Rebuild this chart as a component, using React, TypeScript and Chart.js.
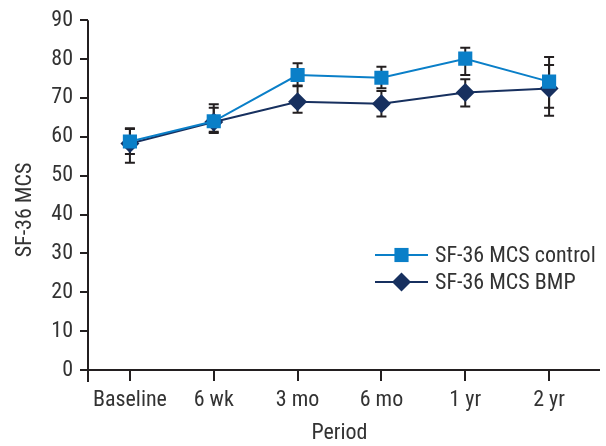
import React, { useEffect, useRef } from "react";
import { Chart, registerables } from "chart.js";

Chart.register(...registerables);

const periods = ["Baseline", "6 wk", "3 mo", "6 mo", "1 yr", "2 yr"];
const controlMean = [58.8, 64.0, 75.9, 75.2, 80.1, 74.2];
const controlUpper = [62.2, 67.5, 78.9, 78.0, 82.9, 78.5];
const controlLower = [55.6, 61.3, 73.2, 72.5, 75.9, 67.5];
const bmpMean = [58.3, 63.8, 69.0, 68.5, 71.4, 72.4];
const bmpUpper = [62.0, 68.4, 73.0, 71.8, 74.8, 80.5];
const bmpLower = [53.3, 61.0, 66.2, 65.2, 67.8, 65.4];
const yTicks = [0, 10, 20, 30, 40, 50, 60, 70, 80, 90];

const FONT = "'Liberation Sans Narrow', 'Roboto Condensed', 'DejaVu Sans Condensed', sans-serif";
const TEXT = "#333333";
const AXIS = "#231f20";
const CONTROL = "#0a7fc8";
const BMP = "#17305f";

const errorBars = {
  id: "errorBars",
  beforeDatasetsDraw(chart: any) {
    const ctx = chart.ctx;
    const xs = chart.scales.x;
    const ys = chart.scales.y;
    const sets = [
      [controlUpper, controlLower],
      [bmpUpper, bmpLower],
    ];
    ctx.save();
    ctx.strokeStyle = AXIS;
    ctx.lineWidth = 2;
    sets.forEach(([up, lo]) => {
      up.forEach((u: number, j: number) => {
        const x = xs.getPixelForValue(j);
        const yt = ys.getPixelForValue(u);
        const yb = ys.getPixelForValue(lo[j]);
        ctx.beginPath();
        ctx.moveTo(x, yt);
        ctx.lineTo(x, yb);
        ctx.moveTo(x - 5, yt);
        ctx.lineTo(x + 5, yt);
        ctx.moveTo(x - 5, yb);
        ctx.lineTo(x + 5, yb);
        ctx.stroke();
      });
    });
    ctx.restore();
  },
};

const decorations = {
  id: "decorations",
  afterDraw(chart: any) {
    const ctx = chart.ctx;
    const a = chart.chartArea;
    ctx.save();
    // axes with overhang
    ctx.strokeStyle = AXIS;
    ctx.lineWidth = 2;
    ctx.beginPath();
    ctx.moveTo(a.left, a.top);
    ctx.lineTo(a.left, a.bottom + 12);
    ctx.moveTo(a.left - 8, a.bottom);
    ctx.lineTo(a.right + 9, a.bottom);
    ctx.stroke();
    // axis titles
    ctx.fillStyle = TEXT;
    ctx.font = `22px ${FONT}`;
    ctx.textAlign = "center";
    ctx.textBaseline = "middle";
    ctx.fillText("Period", (a.left + a.right) / 2, 433);
    ctx.save();
    ctx.translate(25, 210);
    ctx.rotate(-Math.PI / 2);
    ctx.fillText("SF-36 MCS", 0, 0);
    ctx.restore();
    // legend
    const items = [
      { label: "SF-36 MCS control", color: CONTROL, style: "rect", r: 10, y: 255 },
      { label: "SF-36 MCS BMP", color: BMP, style: "rectRot", r: 9.5, y: 282 },
    ];
    items.forEach((it) => {
      ctx.strokeStyle = it.color;
      ctx.lineWidth = 2;
      ctx.beginPath();
      ctx.moveTo(375, it.y);
      ctx.lineTo(428, it.y);
      ctx.stroke();
      ctx.fillStyle = it.color;
      ctx.beginPath();
      if (it.style === "rect") {
        const s = it.r * Math.SQRT1_2;
        ctx.rect(401.5 - s, it.y - s, 2 * s, 2 * s);
      } else {
        ctx.moveTo(401.5, it.y - it.r);
        ctx.lineTo(401.5 + it.r, it.y);
        ctx.lineTo(401.5, it.y + it.r);
        ctx.lineTo(401.5 - it.r, it.y);
        ctx.closePath();
      }
      ctx.fill();
      ctx.fillStyle = TEXT;
      ctx.textAlign = "left";
      ctx.textBaseline = "middle";
      ctx.fillText(it.label, 435, it.y + 1);
    });
    ctx.restore();
  },
};

export default function App() {
  const ref = useRef<HTMLCanvasElement | null>(null);
  useEffect(() => {
    document.body.style.margin = "0";
    if (!ref.current) return;
    const chart = new Chart(ref.current, {
      type: "line",
      data: {
        labels: periods,
        datasets: [
          {
            label: "SF-36 MCS control",
            data: controlMean,
            borderColor: CONTROL,
            backgroundColor: CONTROL,
            borderWidth: 2,
            pointStyle: "rect",
            pointRadius: 10,
            pointBorderWidth: 0,
            tension: 0,
          },
          {
            label: "SF-36 MCS BMP",
            data: bmpMean,
            borderColor: BMP,
            backgroundColor: BMP,
            borderWidth: 2,
            pointStyle: "rectRot",
            pointRadius: 9.5,
            pointBorderWidth: 0,
            tension: 0,
          },
        ],
      },
      options: {
        animation: false,
        responsive: true,
        maintainAspectRatio: false,
        layout: { padding: { top: 19, right: 15, left: 0, bottom: 0 } },
        plugins: { legend: { display: false }, tooltip: { enabled: false } },
        scales: {
          x: {
            offset: true,
            afterFit: (s: any) => {
              s.height = 76;
            },
            grid: {
              display: true,
              drawOnChartArea: false,
              drawTicks: true,
              tickLength: 11,
              color: AXIS,
              lineWidth: 2,
              offset: false,
            },
            border: { display: false },
            ticks: {
              color: TEXT,
              font: { family: FONT, size: 22 },
              padding: 6,
              maxRotation: 0,
              autoSkip: false,
            },
          },
          y: {
            min: 0,
            max: 90,
            afterFit: (s: any) => {
              s.width = 88;
            },
            afterBuildTicks: (s: any) => {
              s.ticks = yTicks.map((v) => ({ value: v }));
            },
            grid: {
              display: true,
              drawOnChartArea: false,
              drawTicks: true,
              tickLength: 8,
              color: AXIS,
              lineWidth: 2,
            },
            border: { display: false },
            ticks: {
              color: TEXT,
              font: { family: FONT, size: 22 },
              padding: 7,
            },
          },
        },
      },
      plugins: [errorBars, decorations],
    });
    return () => chart.destroy();
  }, []);
  return (
    <div style={{ width: 606, height: 446, position: "relative" }}>
      <canvas ref={ref} />
    </div>
  );
}
